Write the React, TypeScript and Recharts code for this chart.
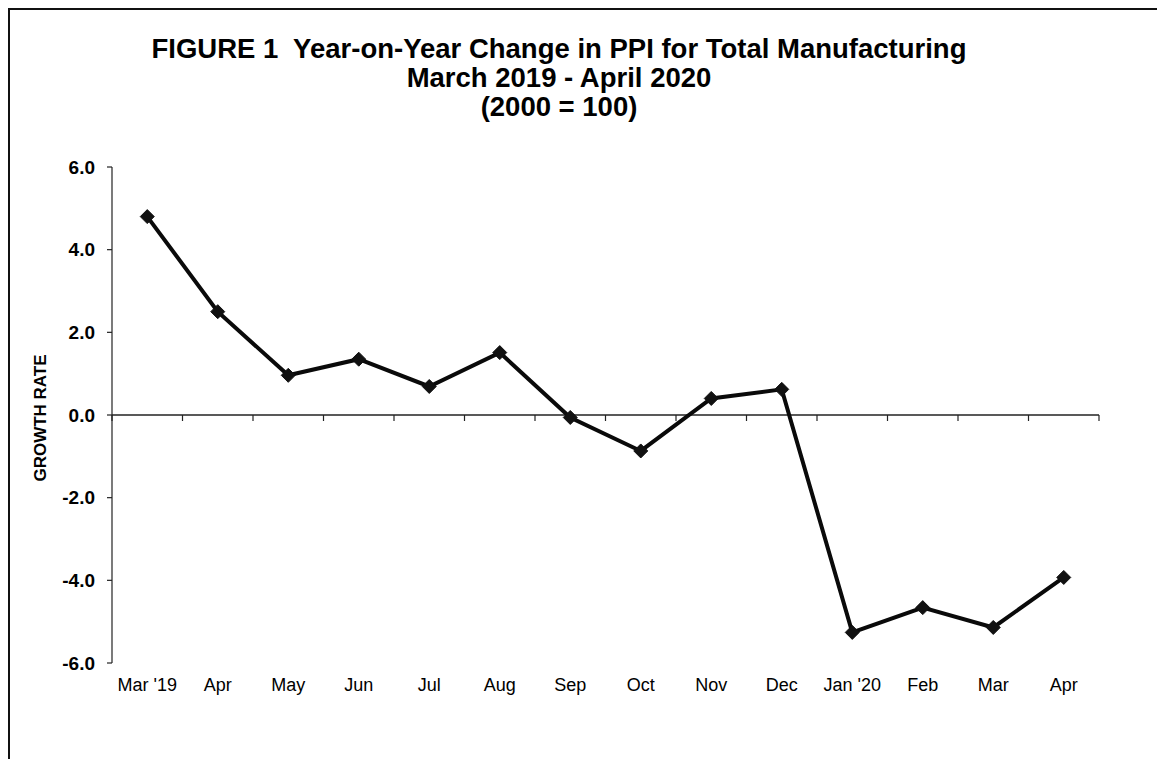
import React from 'react';
import { LineChart, Line, XAxis, YAxis, ReferenceLine } from 'recharts';

const months = ["Mar '19", 'Apr', 'May', 'Jun', 'Jul', 'Aug', 'Sep', 'Oct', 'Nov', 'Dec', "Jan '20", 'Feb', 'Mar', 'Apr'];
const growthRate = [4.8, 2.5, 0.96, 1.35, 0.69, 1.51, -0.06, -0.87, 0.4, 0.62, -5.26, -4.66, -5.14, -3.93];
const yTicks = [-6, -4, -2, 0, 2, 4, 6];
const titleLines = [
  'FIGURE 1  Year-on-Year Change in PPI for Total Manufacturing',
  'March 2019 - April 2020',
  '(2000 = 100)',
];
const yAxisTitle = 'GROWTH RATE';

const data = months.map((m, i) => ({ month: m, value: growthRate[i] }));

const FONT = '"Liberation Sans", Arial, sans-serif';

const PLOT_W = 987;
const HALF_BAND = PLOT_W / months.length / 2;

const Diamond = (props: any) => {
  const { cx, cy, index } = props;
  if (cx == null || cy == null) return <g key={`d-${index}`} />;
  const r = 7;
  return (
    <path
      key={`d-${index}`}
      d={`M${cx},${cy - r} L${cx + r},${cy} L${cx},${cy + r} L${cx - r},${cy} Z`}
      fill="#111"
      stroke="#111"
      strokeWidth={1}
    />
  );
};

const ZeroAxis = (props: any) => {
  const { x1, x2, y1 } = props;
  const n = data.length;
  const step = (x2 - x1) / n;
  const ticks = [];
  for (let i = 0; i <= n; i++) {
    const x = x1 + step * i;
    ticks.push(<line key={i} x1={x} x2={x} y1={y1} y2={y1 + 6} stroke="#222" strokeWidth={1.2} />);
  }
  return (
    <g>
      <line x1={x1} x2={x2} y1={y1} y2={y1} stroke="#222" strokeWidth={1.5} />
      {ticks}
    </g>
  );
};

const YTitle = (props: any) => {
  const { viewBox } = props;
  const x = viewBox.x + 32;
  const y = viewBox.y + viewBox.height / 2 + 3;
  return (
    <text
      x={x}
      y={y}
      transform={`rotate(-90, ${x}, ${y})`}
      textAnchor="middle"
      dominantBaseline="central"
      fontSize={17}
      fontWeight="bold"
      fill="#000"
      fontFamily={FONT}
    >
      {yAxisTitle}
    </text>
  );
};

export default function App() {
  return (
    <div style={{ position: 'relative', width: 1157, height: 751, fontFamily: FONT }}>
      <style>{`body{overflow:hidden}`}</style>
      <div
        style={{
          position: 'absolute',
          left: 0,
          top: 0,
          width: 1300,
          height: 900,
          borderTop: '2px solid #111',
          borderLeft: '2px solid #111',
          boxSizing: 'border-box',
        }}
      />
      <div
        style={{
          position: 'absolute',
          left: 0,
          width: 1102,
          top: 25.5,
          textAlign: 'center',
          fontWeight: 'bold',
          fontSize: 27.5,
          lineHeight: '29px',
          color: '#000',
          whiteSpace: 'pre',
        }}
      >
        {titleLines.map((t, i) => (
          <div key={i}>{t}</div>
        ))}
      </div>
      <div style={{ position: 'absolute', left: 0, top: 0 }}>
        <LineChart
          width={1150}
          height={750}
          data={data}
          margin={{ top: 159, right: 59, bottom: 55, left: 0 }}
        >
          <XAxis
            dataKey="month"
            padding={{ left: HALF_BAND, right: HALF_BAND }}
            axisLine={false}
            tickLine={false}
            tickSize={0}
            tickMargin={15}
            interval={0}
            tick={{ fontSize: 18, fill: '#000', fontFamily: FONT }}
            height={40}
          />
          <YAxis
            type="number"
            domain={[-6, 6]}
            ticks={yTicks}
            interval={0}
            width={104}
            tickSize={5}
            tickMargin={12}
            tickFormatter={(v: number) => v.toFixed(1)}
            axisLine={{ stroke: '#222', strokeWidth: 1.2 }}
            tickLine={{ stroke: '#222', strokeWidth: 1.2 }}
            tick={{ fontSize: 19, fontWeight: 'bold', fill: '#000', fontFamily: FONT }}
            label={<YTitle />}
          />
          <ReferenceLine y={0} shape={(p: any) => <ZeroAxis {...p} />} />
          <Line
            dataKey="value"
            stroke="#0a0a0a"
            strokeWidth={4}
            dot={(p: any) => <Diamond {...p} />}
            activeDot={false}
            isAnimationActive={false}
          />
        </LineChart>
      </div>
    </div>
  );
}
